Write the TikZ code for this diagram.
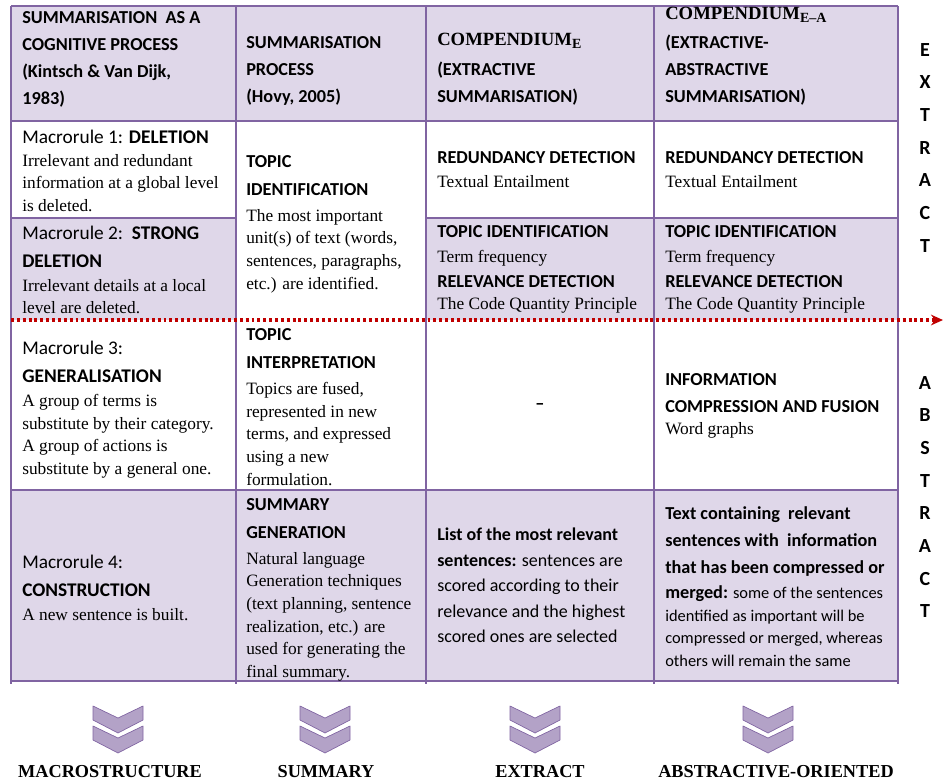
\documentclass[tikz,border=0pt]{standalone}
\usepackage{fontspec}
\setmainfont{Liberation Serif}
\newfontfamily\calfont{Carlito}
\usetikzlibrary{arrows.meta}

\definecolor{cellfill}{HTML}{DFD7E9}
\definecolor{gridpurple}{HTML}{8064A2}
\definecolor{chevfill}{HTML}{B3A2C7}
\definecolor{dotred}{HTML}{C00000}

\tikzset{
    txt/.style={inner sep=0pt, align=left},
    headtext/.style={txt, font=\calfont\bfseries\fontsize{13.7}{20.25}\selectfont},
    steptext/.style={txt, font=\calfont\bfseries\fontsize{13.7}{21}\selectfont},
    macrorule/.style={txt, font=\calfont\fontsize{14.5}{20.5}\selectfont},
    bodytext/.style={txt, font=\fontsize{13}{17}\selectfont},
    sanstext/.style={txt, font=\calfont\fontsize{13.5}{19.1}\selectfont},
    smallsans/.style={txt, font=\calfont\fontsize{12.3}{16.9}\selectfont},
    compendium/.style={txt, font=\bfseries\fontsize{14}{16}\selectfont},
    sideletters/.style={inner sep=0pt, align=center, font=\calfont\bfseries\fontsize{15}{24.5}\selectfont},
    outcome/.style={inner sep=0pt, font=\bfseries\fontsize{13.7}{16}\selectfont},
    tableline/.style={draw=gridpurple, line width=1.5pt},
    dotarrow/.style={draw=dotred, line width=2.3pt, dash pattern=on 2.2pt off 2.2pt,
        -{Stealth[length=9pt, width=8pt]}},
    chevron/.style={fill=chevfill, draw=gridpurple, line width=0.5pt, line join=round},
    downchev/.pic={
        \filldraw[chevron] (-25,0) -- (0,12) -- (25,0) -- (25,14) -- (0,27) -- (-25,14) -- cycle;
        \filldraw[chevron] (-25,20) -- (0,32) -- (25,20) -- (25,34) -- (0,47) -- (-25,34) -- cycle;
    }
}

\newcommand{\subsmall}[1]{\raisebox{-0.4ex}{\fontsize{10.5}{10.5}\selectfont #1}}

\begin{document}
\begin{tikzpicture}[x=0.75pt, y=-0.75pt]
        \useasboundingbox (0,0) rectangle (943,783);
        % shaded cells
        \fill[cellfill] (11,6) rectangle (898,121);
        \fill[cellfill] (11,218) rectangle (236,320);
        \fill[cellfill] (426,218) rectangle (898,320);
        \fill[cellfill] (11,490) rectangle (898,681);
        % table rules
        \draw[tableline] (11,6) -- (898,6);
        \draw[tableline] (11,121) -- (898,121);
        \draw[tableline] (11,218) -- (236,218);
        \draw[tableline] (426,218) -- (898,218);
        \draw[tableline] (11,490) -- (898,490);
        \draw[tableline] (11,681) -- (898,681);
        \draw[tableline] (11,6) -- (11,684);
        \draw[tableline] (236,6) -- (236,684);
        \draw[tableline] (426,6) -- (426,684);
        \draw[tableline] (654,6) -- (654,684);
        \draw[tableline] (898,6) -- (898,684);

        % header row
        \node[headtext, anchor=north west] (HeadCognitive) at (22,11) {
            SUMMARISATION\ \ AS A\\COGNITIVE PROCESS\\(Kintsch \& Van Dijk,\\1983)
        };
        \node[headtext, anchor=north west] (HeadProcess) at (246,36) {
            SUMMARISATION\\PROCESS\\(Hovy, 2005)
        };
        \node[compendium, anchor=west] (HeadCompE) at (437,41) {
            COMPENDIUM\subsmall{E}
        };
        \node[headtext, anchor=north west] (HeadCompEText) at (437,62) {
            (EXTRACTIVE\\SUMMARISATION)
        };
        \node[compendium, anchor=west] (HeadCompEA) at (665,15) {
            COMPENDIUM\subsmall{E\textendash A}
        };
        \node[headtext, anchor=north west] (HeadCompEAText) at (665,35) {
            (EXTRACTIVE-\\ABSTRACTIVE\\SUMMARISATION)
        };

        % macrorule 1
        \node[macrorule, anchor=west] (MacroOne) at (22,137) {
            Macrorule 1: \textbf{DELETION}
        };
        \node[bodytext, anchor=north west] (MacroOneText) at (22,154) {
            Irrelevant and redundant\\information at a global level\\is deleted.
        };
        \node[steptext, anchor=north west] (TopicIdent) at (246,155) {
            TOPIC\\IDENTIFICATION
        };
        \node[bodytext, anchor=north west] (TopicIdentText) at (246,209) {
            The most important\\unit(s) of text (words,\\sentences, paragraphs,\\etc.) are identified.
        };
        \node[headtext, anchor=west] (RedundE) at (437,158) {REDUNDANCY DETECTION};
        \node[bodytext, anchor=west] (RedundEText) at (437,182) {Textual Entailment};
        \node[headtext, anchor=west] (RedundEA) at (665,158) {REDUNDANCY DETECTION};
        \node[bodytext, anchor=west] (RedundEAText) at (665,182) {Textual Entailment};

        % macrorule 2
        \node[macrorule, anchor=north west] (MacroTwo) at (22,226) {
            Macrorule 2:\ \ \textbf{STRONG}\\\textbf{DELETION}
        };
        \node[bodytext, anchor=north west] (MacroTwoText) at (22,279) {
            Irrelevant details at a local\\level are deleted.
        };
        \node[headtext, anchor=west] (TopicE) at (437,232) {TOPIC IDENTIFICATION};
        \node[bodytext, anchor=west] (TermE) at (437,258) {Term frequency};
        \node[headtext, anchor=west] (RelevE) at (437,282) {RELEVANCE DETECTION};
        \node[bodytext, anchor=west] (CodeE) at (437,305) {The Code Quantity Principle};
        \node[headtext, anchor=west] (TopicEA) at (665,232) {TOPIC IDENTIFICATION};
        \node[bodytext, anchor=west] (TermEA) at (665,258) {Term frequency};
        \node[headtext, anchor=west] (RelevEA) at (665,282) {RELEVANCE DETECTION};
        \node[bodytext, anchor=west] (CodeEA) at (665,305) {The Code Quantity Principle};

        % macrorule 3
        \node[macrorule, anchor=north west] (MacroThree) at (22,341) {
            Macrorule 3:\\\textbf{GENERALISATION}
        };
        \node[bodytext, anchor=north west] (MacroThreeText) at (22,394) {
            A group of terms is\\substitute by their category.\\A group of actions is\\substitute by a general one.
        };
        \node[steptext, anchor=north west] (TopicInterp) at (246,328) {
            TOPIC\\INTERPRETATION
        };
        \node[bodytext, anchor=north west] (TopicInterpText) at (246,382) {
            Topics are fused,\\represented in new\\terms, and expressed\\using a new\\formulation.
        };
        \node[headtext] (NoStepE) at (540,407) {\textendash};
        \node[headtext, anchor=north west] (InfoComp) at (665,373) {
            INFORMATION\\COMPRESSION AND FUSION
        };
        \node[bodytext, anchor=west] (InfoCompText) at (665,430) {Word graphs};

        % macrorule 4
        \node[macrorule, anchor=north west] (MacroFour) at (22,555) {
            Macrorule 4:\\\textbf{CONSTRUCTION}
        };
        \node[bodytext, anchor=west] (MacroFourText) at (22,615) {A new sentence is built.};
        \node[steptext, anchor=north west] (SumGen) at (246,498) {
            SUMMARY\\GENERATION
        };
        \node[bodytext, anchor=north west] (SumGenText) at (246,552) {
            Natural language\\Generation techniques\\(text planning, sentence\\realization, etc.) are\\used for generating the\\final summary.
        };
        \node[sanstext, anchor=north west] (ListSent) at (437,528) {
            \textbf{List of the most relevant}\\\textbf{sentences:} sentences are\\scored according to their\\relevance and the highest\\scored ones are selected
        };
        \node[headtext, anchor=north west] (TextCompHead) at (665,506) {
            Text containing\ \ relevant\\sentences with\ \ information\\that has been compressed or
        };
        \node[smallsans, anchor=north west] (TextCompBody) at (665,585.5) {
            {\fontsize{13.7}{16.9}\selectfont\bfseries merged:} some of the sentences\\identified as important will be\\compressed or merged, whereas\\others will remain the same
        };

        % extract / abstract border
        \coordinate (DotStart) at (11,320);
        \coordinate (DotEnd) at (943,320);
        \draw[dotarrow] (DotStart) -- (DotEnd);
        \node[sideletters, anchor=north] (ExtractSide) at (925,43) {
            E\\X\\T\\R\\A\\C\\T
        };
        \node[sideletters, anchor=north] (AbstractSide) at (925,376) {
            A\\B\\S\\T\\R\\A\\C\\T
        };

        % outputs
        \pic at (118,706) {downchev};
        \pic at (325,706) {downchev};
        \pic at (535,706) {downchev};
        \pic at (768,706) {downchev};
        \node[outcome] (Macrostructure) at (110,772) {MACROSTRUCTURE};
        \node[outcome] (Summary) at (326,772) {SUMMARY};
        \node[outcome] (Extract) at (540,772) {EXTRACT};
        \node[outcome] (AbstractiveOriented) at (776,772) {ABSTRACTIVE-ORIENTED};
    \end{tikzpicture}
\end{document}
